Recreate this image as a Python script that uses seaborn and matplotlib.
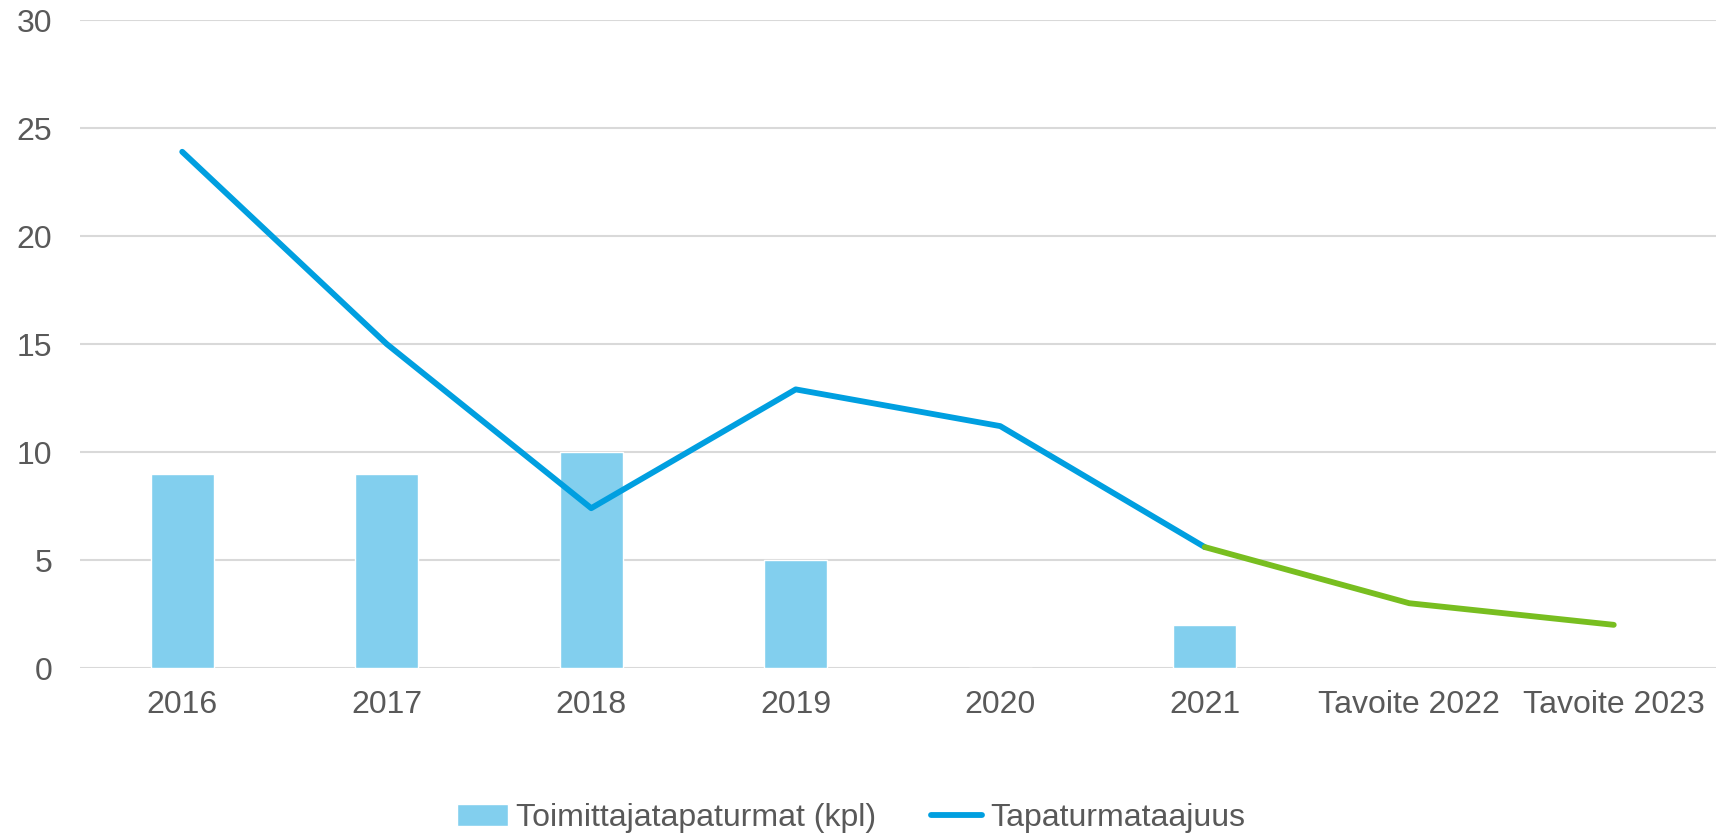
import matplotlib.pyplot as plt
import matplotlib as mpl
import pandas as pd
import numpy as np
import seaborn as sns

categories = ['2016', '2017', '2018', '2019', '2020', '2021', 'Tavoite 2022', 'Tavoite 2023']
accidents = [9, 9, 10, 5, 0, 2, np.nan, np.nan]
frequency = [23.9, 15.0, 7.4, 12.9, 11.2, 5.6, 3.0, 2.0]
n_actual = 6  # 2016-2021 are actual values, the rest are targets

bar_color = '#82CFEE'
line_color = '#009FE0'
target_color = '#78BE20'
text_color = '#595959'
grid_color = '#D9D9D9'
fs = 23

sns.set_style('white')
mpl.rcParams['font.family'] = ['Liberation Sans', 'DejaVu Sans']
mpl.rcParams['font.size'] = fs

df = pd.DataFrame({'pos': np.arange(len(categories)), 'cat': categories,
                   'accidents': accidents, 'frequency': frequency})

fig = plt.figure(figsize=(17.16, 8.34), dpi=100)
ax = fig.add_axes([0.0466, 0.199, 0.9534, 0.777])

sns.barplot(data=df, x='pos', y='accidents', color=bar_color, width=0.31,
            saturation=1, ax=ax, label='Toimittajatapaturmat (kpl)', zorder=2)

actual = df.iloc[:n_actual]
target = df.iloc[n_actual - 1:]
sns.lineplot(data=actual, x='pos', y='frequency', color=line_color, linewidth=4.2,
             ax=ax, label='Tapaturmataajuus', zorder=3)
sns.lineplot(data=target, x='pos', y='frequency', color=target_color, linewidth=4.2,
             ax=ax, zorder=3)

ax.set_ylim(0, 30)
ax.set_xlim(-0.5, len(categories) - 0.5)
ax.set_yticks(range(0, 31, 5))
ax.set_xticks(df['pos'])
ax.set_xticklabels(categories)
ax.yaxis.grid(True, color=grid_color, linewidth=1.5, zorder=0)
ax.set_axisbelow(True)
for s in ax.spines.values():
    s.set_visible(False)
ax.tick_params(axis='y', length=0, pad=20, colors=text_color, labelsize=fs)
ax.tick_params(axis='x', length=0, pad=16, colors=text_color, labelsize=fs)
ax.set_xlabel('')
ax.set_ylabel('')

handles, labels = ax.get_legend_handles_labels()
ax.get_legend().remove()
# bar series first, as in the source chart
order = [labels.index('Toimittajatapaturmat (kpl)'), labels.index('Tapaturmataajuus')]
fig.legend([handles[i] for i in order], [labels[i] for i in order],
           loc='center', bbox_to_anchor=(0.496, 0.019), ncol=2,
           frameon=False, fontsize=fs, labelcolor=text_color, handlelength=1.6,
           handletextpad=0.25, columnspacing=1.7)

fig.savefig('out.png', dpi=100)
